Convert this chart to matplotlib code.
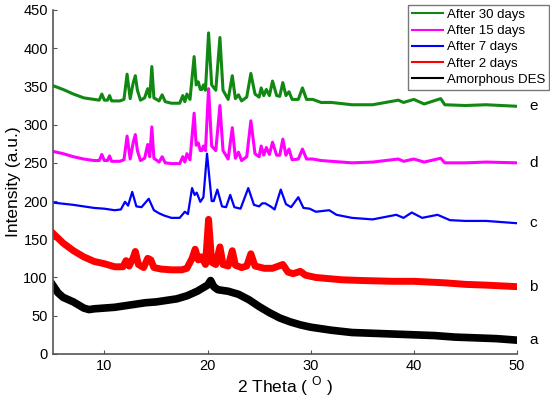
import matplotlib
matplotlib.use("Agg")
import matplotlib.pyplot as plt

matplotlib.rcParams['font.family'] = ['Liberation Sans', 'DejaVu Sans']

# --- data (2 theta in degrees, intensity in a.u.) ---
x_cryst = [5, 6, 7, 8, 9, 9.5, 9.75, 10.0, 10.3, 10.5, 10.7, 11.5, 11.9, 12.2, 12.5,
           12.8, 13.0, 13.2, 13.5, 13.9, 14.2, 14.4, 14.6, 14.8, 15.3, 15.6, 15.9, 16.5,
           17.3, 17.6, 17.8, 18.0, 18.3, 18.7, 18.9, 19.1, 19.3, 19.45, 19.6, 19.8, 20.1,
           20.4, 20.8, 21.2, 21.5, 22.0, 22.4, 22.7, 23.0, 23.3, 23.8, 24.2, 24.6, 25.0,
           25.2, 25.45, 25.7, 26.0, 26.3, 26.7, 27.0, 27.3, 27.6, 27.9, 28.2, 28.8, 29.2,
           29.6, 30.2, 31, 32, 34, 36, 38.5, 39, 40, 41, 42.6, 43, 45, 47, 50]

y_30days = [351, 346, 340, 335, 333, 332, 340, 332, 332, 338, 331, 331, 333, 366, 334,
            355, 364, 345, 332, 335, 347, 336, 376, 335, 331, 339, 330, 328,
            328, 338, 330, 340, 333, 389, 352, 356, 346, 346, 352, 345, 420,
            352, 345, 414, 345, 333, 364, 334, 339, 331, 336, 367, 340, 336,
            348, 338, 346, 338, 357, 338, 337, 355, 338, 343, 333, 333, 348,
            333, 333, 329, 329, 326, 326, 332, 329, 333, 327, 334, 326, 325, 326, 324]

y_15days = [265, 262, 258, 255, 253, 253, 261, 253, 253, 259, 252, 252, 254, 285, 255,
            277, 287, 266, 253, 256, 274, 258, 297, 256, 251, 258, 250, 249,
            249, 258, 251, 262, 254, 315, 273, 276, 266, 266, 272, 266, 347,
            272, 266, 325, 266, 255, 296, 256, 264, 253, 258, 305, 262, 258,
            272, 260, 270, 261, 277, 260, 260, 281, 260, 268, 254, 255, 268,
            255, 255, 253, 252, 250, 251, 255, 252, 255, 251, 256, 250, 250, 251, 250]

x_7days = [5, 7, 9, 10, 11, 11.6, 12.0, 12.3, 12.7, 13.1, 13.6, 14.3, 14.8, 15.3, 15.8,
           16.5, 17.3, 17.8, 18.1, 18.5, 18.75, 18.95, 19.3, 19.6, 19.95, 20.4, 20.6,
           20.95, 21.4, 21.8, 22.2, 22.6, 23.2, 23.95, 24.5, 25.0, 25.3, 25.6, 26.1,
           26.5, 27.1, 27.6, 28.1, 28.8, 29.3, 29.9, 30.5, 31.8, 32.5, 34, 36, 38.3,
           39, 39.8, 40.8, 42.3, 43.5, 45, 47, 50]
y_7days = [198, 195, 191, 190, 188, 189, 199, 194, 212, 193, 192, 203, 188, 184, 181,
           178, 178, 186, 183, 217, 208, 211, 199, 205, 262, 200, 200,
           215, 193, 192, 208, 192, 190, 217, 195, 193, 197, 197, 193,
           189, 215, 196, 192, 205, 191, 190, 186, 188, 182, 178, 176, 182,
           178, 185, 178, 182, 175, 174, 174, 171]

x_2days = [5, 6, 7, 8, 9, 10, 11, 11.8, 12.1, 12.4, 12.8, 13.0, 13.3, 13.8, 14.2, 14.5,
           14.8, 15.5, 16.5, 17.5, 18.0, 18.5, 18.8, 19.1, 19.4, 19.8, 20.1, 20.4, 20.8,
           21.2, 21.5, 22.0, 22.4, 22.7, 23.3, 23.8, 24.2, 24.6, 25.5, 26.3, 27.3, 27.8,
           28.3, 29.0, 29.5, 30.5, 33, 35, 38, 40, 43, 45, 47, 50]
y_2days = [158, 145, 135, 127, 121, 118, 114, 114, 122, 115, 126, 134, 117, 113, 125, 123,
           113, 111, 110, 110, 112, 125, 137, 123, 127, 117, 176, 120, 117,
           140, 117, 115, 135, 116, 113, 115, 131, 115, 112, 112, 117, 107,
           105, 108, 103, 100, 97, 96, 95, 95, 93, 91, 90, 88]

x_amorph = [5, 5.5, 6, 7, 8, 8.5, 9, 10, 11, 12, 13, 14, 15, 16, 17, 18, 19, 19.5, 20.0,
            20.3, 20.6, 21, 22, 23, 24, 25, 26, 27, 28, 29, 30, 32, 34, 36, 38, 40, 42,
            44, 46, 48, 50]
y_amorph = [90, 80, 74, 68, 60, 58, 59, 60, 61, 63, 65, 67, 68, 70, 72, 76, 82, 86, 90,
            96, 88, 84, 82, 78, 71, 62, 54, 47, 42, 38, 35, 31, 28, 27, 26, 25, 24,
            22, 21, 20, 18]

curve_tags = ["e", "d", "c", "b", "a"]

fig = plt.figure(figsize=(5.5, 3.99), dpi=100)
ax = fig.add_axes([0.096, 0.113, 0.844, 0.862])

ax.plot(x_cryst, y_30days, color="#118811", lw=2.2, label="After 30 days")
ax.plot(x_cryst, y_15days, color="#ff00ff", lw=2.2, label="After 15 days")
ax.plot(x_7days, y_7days, color="#0000ff", lw=1.6, label="After 7 days")
ax.plot(x_2days, y_2days, color="#ff0000", lw=5, label="After 2 days")
ax.plot(x_amorph, y_amorph, color="black", lw=5.5, label="Amorphous DES")

ends = [y_30days[-1], y_15days[-1], y_7days[-1], y_2days[-1], y_amorph[-1]]
for tag, yv in zip(curve_tags, ends):
    ax.text(51.2, yv, tag, fontsize=11, va="center", ha="left", clip_on=False)

ax.set_xlim(5, 50)
ax.set_ylim(0, 450)
ax.set_xticks([10, 20, 30, 40, 50])
ax.set_yticks(range(0, 451, 50))
ax.tick_params(direction="in", length=3, labelsize=10.5, color="#555555")
for side in ["top", "right"]:
    ax.spines[side].set_visible(False)
for side in ["left", "bottom"]:
    ax.spines[side].set_color("#555555")
    ax.spines[side].set_linewidth(1.2)

ax.set_xlabel(r"2 Theta ( $^\mathregular{O}$ )", fontsize=12.5, labelpad=1)
ax.set_ylabel("Intensity (a.u.)", fontsize=12.5, labelpad=2)

leg = fig.legend(loc="upper right", bbox_to_anchor=(0.998, 0.988), fontsize=9.5,
                 frameon=True, fancybox=False, handlelength=2.3, labelspacing=0.3,
                 borderpad=0.3, handletextpad=0.3, borderaxespad=0)
for line in leg.get_lines():
    line.set_linewidth(1.5)
leg.get_frame().set_edgecolor("#555555")
leg.get_frame().set_linewidth(1.0)

fig.savefig("out.png", dpi=100)
